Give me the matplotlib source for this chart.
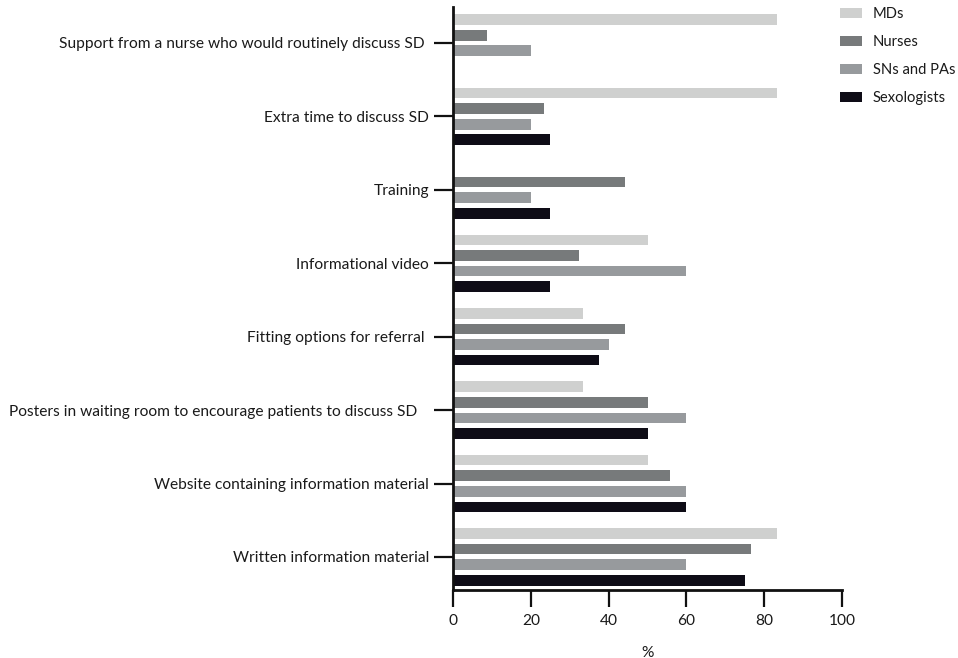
import matplotlib
matplotlib.use("Agg")
import matplotlib.pyplot as plt
import numpy as np

plt.rcParams['font.family'] = ['Lato', 'DejaVu Sans']

categories = ["Support from a nurse who would routinely discuss SD ",
              "Extra time to discuss SD",
              "Training",
              "Informational video",
              "Fitting options for referral ",
              "Posters in waiting room to encourage patients to discuss SD   ",
              "Website containing information material",
              "Written information material"]
series_names = ["MDs", "Nurses", "SNs and PAs", "Sexologists"]
mds = [83.3, 83.3, 0, 50, 33.3, 33.3, 50, 83.3]
nurses = [8.8, 23.5, 44.1, 32.4, 44.1, 50, 55.9, 76.5]
sns_pas = [20, 20, 20, 60, 40, 60, 60, 60]
sexologists = [0, 25, 25, 25, 37.5, 50, 60, 75]
colors = ["#cfd0cf", "#777a7b", "#979a9d", "#0e0c16"]
xticks = [0, 20, 40, 60, 80, 100]

fig = plt.figure(figsize=(9.58, 6.58), dpi=100)
ax = fig.add_axes([453/958, 1-590/658, (842-453)/958, (590-7)/658])

y = np.arange(len(categories))
pitch = 0.2125
h = 0.145
for i, (vals, name, c) in enumerate(zip([mds, nurses, sns_pas, sexologists], series_names, colors)):
    ax.barh(y + (i - 1.5) * pitch, vals, height=h, color=c, label=name)

ax.set_ylim(7.45, -0.49)
ax.set_xlim(0, 100)
ax.set_yticks(y)
ax.set_yticklabels(categories, fontsize=11.2, color='#1a1a1a')
ax.set_xticks(xticks)
ax.set_xticklabels([str(t) for t in xticks], fontsize=11.2, color='#1a1a1a')
ax.set_xlabel("%", fontsize=11.2, labelpad=13, color='#1a1a1a')
for s in ['top', 'right']:
    ax.spines[s].set_visible(False)
for s in ['left', 'bottom']:
    ax.spines[s].set_linewidth(2)
    ax.spines[s].set_color('#111111')
ax.tick_params(axis='y', length=13.7, width=1.6, color='#111111', pad=3.6)
ax.tick_params(axis='x', length=12.2, width=1.6, color='#111111', pad=5)

leg = fig.legend(loc='upper left', bbox_to_anchor=(834/958, 1.0 - 1/658), frameon=False,
                 fontsize=10.6, handlelength=1.5, handleheight=0.68, labelspacing=0.95,
                 handletextpad=0.75, borderaxespad=0)
for t in leg.get_texts():
    t.set_color('#1a1a1a')

fig.savefig("out.png", dpi=100)
